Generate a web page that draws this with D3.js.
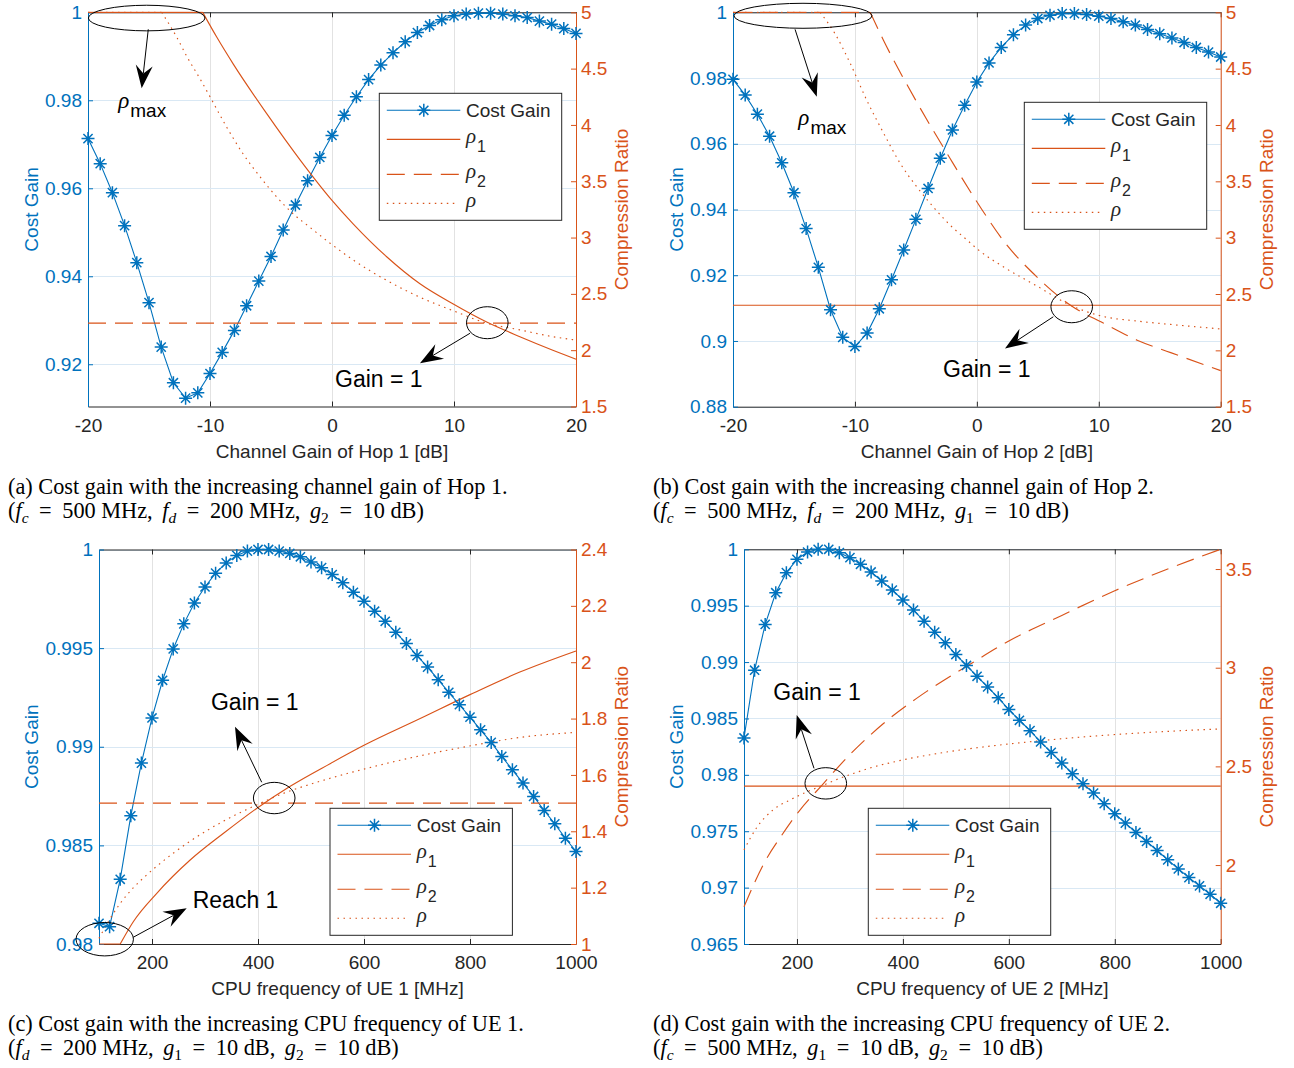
<!DOCTYPE html>
<html><head><meta charset="utf-8">
<script src="https://cdn.jsdelivr.net/npm/d3@7/dist/d3.min.js"></script>
<style>html,body{margin:0;padding:0;background:#fff;}svg{display:block;}</style>
</head><body>
<svg id="chart" width="1294" height="1068"></svg>
<script>
// ================= DATA =================
const hopGainDb = [-20,-19,-18,-17,-16,-15,-14,-13,-12,-11,-10,-9,-8,-7,-6,-5,-4,-3,-2,-1,0,1,2,3,4,5,6,7,8,9,10,11,12,13,14,15,16,17,18,19,20];
const costGainHop1 = [0.9713,0.9656,0.9590,0.9515,0.9431,0.9340,0.9239,0.9158,0.9123,0.9135,0.9179,0.9227,0.9277,0.9333,0.9389,0.9445,0.9505,0.9562,0.9617,0.9670,0.9720,0.9766,0.9808,0.9847,0.9880,0.9908,0.9933,0.9954,0.9970,0.9983,0.9992,0.9996,0.9998,0.9998,0.9996,0.9992,0.9988,0.9980,0.9973,0.9963,0.9952];
const costGainHop2 = [0.9796,0.9748,0.9690,0.9623,0.9542,0.9451,0.9342,0.9224,0.9095,0.9011,0.8983,0.9024,0.9098,0.9186,0.9277,0.9370,0.9464,0.9556,0.9642,0.9717,0.9788,0.9846,0.9893,0.9932,0.9961,0.9981,0.9991,0.9996,0.9996,0.9993,0.9988,0.9981,0.9971,0.9961,0.9948,0.9935,0.9922,0.9908,0.9893,0.9879,0.9864];
const cpuFreqMHz = [100,120,140,160,180,200,220,240,260,280,300,320,340,360,380,400,420,440,460,480,500,520,540,560,580,600,620,640,660,680,700,720,740,760,780,800,820,840,860,880,900,920,940,960,980,1000];
const costGainUE1 = [0.98105,0.98088,0.98328,0.98650,0.98917,0.99146,0.99337,0.99496,0.99623,0.99729,0.99810,0.99880,0.99932,0.99970,0.99992,1.00000,1.00000,0.99992,0.99980,0.99963,0.99937,0.99908,0.99873,0.99831,0.99783,0.99738,0.99687,0.99636,0.99580,0.99523,0.99462,0.99404,0.99340,0.99276,0.99213,0.99150,0.99086,0.99022,0.98951,0.98883,0.98816,0.98748,0.98677,0.98609,0.98536,0.98469];
const costGainUE2 = [0.98327,0.98928,0.99334,0.99615,0.99793,0.99911,0.99976,1.00000,1.00000,0.99970,0.99926,0.99867,0.99799,0.99719,0.99639,0.99550,0.99461,0.99363,0.99265,0.99171,0.99067,0.98970,0.98874,0.98780,0.98683,0.98579,0.98484,0.98392,0.98292,0.98199,0.98105,0.98010,0.97921,0.97838,0.97744,0.97655,0.97572,0.97489,0.97409,0.97329,0.97246,0.97166,0.97089,0.97015,0.96941,0.96861];

// compression ratios (x positions, values)
const rho1Hop1X = [-20,-10.6,-9.45,-8.09,-5.35,-2.62,0,1.75,4.48,7.21,9.94,12.68,15.4,18.1,20];
const rho1Hop1  = [5,5,4.78,4.54,4.10,3.69,3.33,3.12,2.83,2.59,2.41,2.25,2.12,2.00,1.92];
const rho2Hop1X = [-20,20];
const rho2Hop1  = [2.24,2.24];
const rhoHop1X  = [-20,-13.96,-12.73,-11.91,-10.82,-10,-8.63,-7.27,-5.9,-4.53,-3.17,-1.8,-0.16,1.75,4.48,7.21,9.94,12.68,15.4,18.1,20];
const rhoHop1   = [5,5,4.78,4.61,4.41,4.25,3.98,3.74,3.54,3.36,3.21,3.09,2.95,2.80,2.62,2.47,2.35,2.24,2.18,2.12,2.09];

const rho1Hop2X = [-20,20];
const rho1Hop2  = [2.40,2.40];
const rho2Hop2X = [-20,-8.75,-7.65,-4.91,-2.18,0.29,2.2,4.94,7.68,10.4,13.15,15.9,20];
const rho2Hop2  = [5,5,4.75,4.20,3.70,3.27,2.97,2.65,2.40,2.24,2.09,1.98,1.82];
const rhoHop2X  = [-20,-12.86,-11.63,-10.4,-9.03,-7.66,-6.29,-4.92,-3.55,-2.18,-0.81,0.14,2.2,4.94,7.68,10.4,13.15,15.9,20];
const rhoHop2   = [5,5,4.81,4.55,4.22,3.93,3.66,3.45,3.27,3.11,2.98,2.89,2.74,2.57,2.40,2.30,2.26,2.23,2.19];

const rho1UE1X = [100,140,165,209,272,335,398,460,536,600,706,800,894,1000];
const rho1UE1  = [1,1,1.08,1.18,1.298,1.393,1.482,1.559,1.640,1.705,1.80,1.885,1.965,2.04];
const rho2UE1X = [100,1000];
const rho2UE1  = [1.5,1.5];
const rhoUE1X  = [100,121,140,165,190,209,240,272,303,335,366,398,429,460,492,536,580,643,706,769,832,894,1000];
const rhoUE1   = [1.02,1.09,1.144,1.200,1.245,1.276,1.322,1.365,1.402,1.436,1.466,1.494,1.520,1.543,1.563,1.588,1.611,1.641,1.668,1.692,1.714,1.733,1.751];

const rho1UE2X = [100,1000];
const rho1UE2  = [2.40,2.40];
const rho2UE2X = [100,140,171,203,247,300,369,445,533,600,700,800,900,1000];
const rho2UE2  = [1.789,2.02,2.15,2.27,2.404,2.56,2.73,2.88,3.028,3.135,3.265,3.39,3.50,3.6];
const rhoUE2X  = [100,124,155,187,218,250,281,313,344,376,407,445,483,533,652,778,904,1000];
const rhoUE2   = [2.077,2.19,2.28,2.33,2.37,2.405,2.44,2.47,2.497,2.518,2.537,2.556,2.573,2.592,2.628,2.657,2.678,2.69];

// ticks
const hopTicks = [-20,-10,0,10,20];
const hopTickLabels = ['-20','-10','0','10','20'];
const cpuTicks = [200,400,600,800,1000];
const cpuTickLabels = ['200','400','600','800','1000'];
const costTicksA = [0.92,0.94,0.96,0.98,1];
const costLabelsA = ['0.92','0.94','0.96','0.98','1'];
const costTicksB = [0.88,0.9,0.92,0.94,0.96,0.98,1];
const costLabelsB = ['0.88','0.9','0.92','0.94','0.96','0.98','1'];
const costTicksC = [0.98,0.985,0.99,0.995,1];
const costLabelsC = ['0.98','0.985','0.99','0.995','1'];
const costTicksD = [0.965,0.97,0.975,0.98,0.985,0.99,0.995,1];
const costLabelsD = ['0.965','0.97','0.975','0.98','0.985','0.99','0.995','1'];
const ratioTicksAB = [1.5,2,2.5,3,3.5,4,4.5,5];
const ratioLabelsAB = ['1.5','2','2.5','3','3.5','4','4.5','5'];
const ratioTicksC = [1,1.2,1.4,1.6,1.8,2,2.2,2.4];
const ratioLabelsC = ['1','1.2','1.4','1.6','1.8','2','2.2','2.4'];
const ratioTicksD = [2,2.5,3,3.5];
const ratioLabelsD = ['2','2.5','3','3.5'];

const legendLabels = ['Cost Gain','1','2',''];
const captionsLine1 = [
  '(a) Cost gain with the increasing channel gain of Hop 1.',
  '(b) Cost gain with the increasing channel gain of Hop 2.',
  '(c) Cost gain with the increasing CPU frequency of UE 1.',
  '(d) Cost gain with the increasing CPU frequency of UE 2.'
];
// [text, style] n=normal i=italic s=subscript si=italic subscript
const captionsLine2 = [
  [['(','n'],['f','i'],['c','si'],[' = 500 MHz, ','n'],['f','i'],['d','si'],[' = 200 MHz, ','n'],['g','i'],['2','s'],[' = 10 dB)','n']],
  [['(','n'],['f','i'],['c','si'],[' = 500 MHz, ','n'],['f','i'],['d','si'],[' = 200 MHz, ','n'],['g','i'],['1','s'],[' = 10 dB)','n']],
  [['(','n'],['f','i'],['d','si'],[' = 200 MHz, ','n'],['g','i'],['1','s'],[' = 10 dB, ','n'],['g','i'],['2','s'],[' = 10 dB)','n']],
  [['(','n'],['f','i'],['c','si'],[' = 500 MHz, ','n'],['g','i'],['1','s'],[' = 10 dB, ','n'],['g','i'],['2','s'],[' = 10 dB)','n']]
];

// ================= DRAWING =================
const BLUE='#0072BD', ORANGE='#D95319', AXIS='#262626';
const SANS='"Liberation Sans", Arial, Helvetica, sans-serif';
const SERIF='"Liberation Serif", "Times New Roman", serif';
const svg=d3.select('#chart');
svg.append('rect').attr('width',1294).attr('height',1068).attr('fill','#fff');

const panels=[
 {L:88,R:576,T:12.3,B:406.5,xDom:[-20,20],yLDom:[0.9104,1],yRDom:[1.5,5],
  xT:hopTicks,xTL:hopTickLabels,yLT:costTicksA,yLTL:costLabelsA,yRT:ratioTicksAB,yRTL:ratioLabelsAB,
  xs:hopGainDb,cost:costGainHop1,r1:[rho1Hop1X,rho1Hop1],r2:[rho2Hop1X,rho2Hop1],r:[rhoHop1X,rhoHop1],
  legend:[379.3,93.3],xLabel:'Channel Gain of Hop 1 [dB]',yLOff:50,
  ellipses:[[-15.19,4.949,58.3,12.8],[12.73,2.244,20.8,16]],
  arrows:[[-15.06,4.849,-15.6,4.325],[11.31,2.15,7.21,1.884]],
  rhomax:[-17.52,4.146],texts:[['Gain = 1',0.25,1.673]]},
 {L:733,R:1220.7,T:12.3,B:406.7,xDom:[-20,20],yLDom:[0.88,1],yRDom:[1.5,5],
  xT:hopTicks,xTL:hopTickLabels,yLT:costTicksB,yLTL:costLabelsB,yRT:ratioTicksAB,yRTL:ratioLabelsAB,
  xs:hopGainDb,cost:costGainHop2,r1:[rho1Hop2X,rho1Hop2],r2:[rho2Hop2X,rho2Hop2],r:[rhoHop2X,rhoHop2],
  legend:[1024.3,102.3],xLabel:'Channel Gain of Hop 2 [dB]',yLOff:49.7,
  ellipses:[[-14.26,4.969,69,12.5],[7.78,2.387,20.8,16]],
  arrows:[[-14.91,4.849,-13.13,4.251],[6.27,2.298,2.31,2.017]],
  rhomax:[-14.64,4.0],texts:[['Gain = 1',-2.77,1.76]]},
 {L:99,R:576,T:549.5,B:944,xDom:[100,1000],yLDom:[0.98,1],yRDom:[1,2.4],
  xT:cpuTicks,xTL:cpuTickLabels,yLT:costTicksC,yLTL:costLabelsC,yRT:ratioTicksC,yRTL:ratioLabelsC,
  xs:cpuFreqMHz,cost:costGainUE1,r1:[rho1UE1X,rho1UE1],r2:[rho2UE1X,rho2UE1],r:[rhoUE1X,rhoUE1],
  legend:[330,808.3],xLabel:'CPU frequency of UE 1 [MHz]',yLOff:60.7,
  ellipses:[[430.6,1.518,20.8,15.7],[110.8,1.017,28.7,16.7]],
  arrows:[[407,1.574,356.6,1.771],[164.7,1.024,265.5,1.127]],
  rhomax:null,texts:[['Gain = 1',311.3,1.830],['Reach 1',276.8,1.129]]},
 {L:744,R:1220.7,T:549.3,B:944,xDom:[100,1000],yLDom:[0.965,1],yRDom:[1.6,3.6],
  xT:cpuTicks,xTL:cpuTickLabels,yLT:costTicksD,yLTL:costLabelsD,yRT:ratioTicksD,yRTL:ratioLabelsD,
  xs:cpuFreqMHz,cost:costGainUE2,r1:[rho1UE2X,rho1UE2],r2:[rho2UE2X,rho2UE2],r:[rhoUE2X,rhoUE2],
  legend:[868.3,808.3],xLabel:'CPU frequency of UE 2 [MHz]',yLOff:60.7,
  ellipses:[[254.4,2.414,20.8,15.7]],
  arrows:[[232.2,2.49,199.5,2.76]],
  rhomax:null,texts:[['Gain = 1',155.3,2.837]]}
];

function asterisk(r){const d=r*Math.SQRT1_2;return `M${-r},0L${r},0M0,${-r}L0,${r}M${-d},${-d}L${d},${d}M${-d},${d}L${d},${-d}`;}

function drawArrow(g,x1,y1,x2,y2){
  const dx=x2-x1,dy=y2-y1,len=Math.hypot(dx,dy),ux=dx/len,uy=dy/len,nx=-uy,ny=ux;
  const L=23,Wd=8.5,notch=15;
  const bx=x2-ux*L,by=y2-uy*L;
  const pn=[x2-ux*notch,y2-uy*notch];
  g.append('line').attr('x1',x1).attr('y1',y1).attr('x2',pn[0]).attr('y2',pn[1]).attr('stroke','#000').attr('stroke-width',1);
  g.append('path').attr('d',`M${x2},${y2}L${bx+nx*Wd},${by+ny*Wd}L${pn[0]},${pn[1]}L${bx-nx*Wd},${by-ny*Wd}Z`).attr('fill','#000');
}

function rhoLabel(g,x,y,sub,size,subSize,subDy,fill){
  const t=g.append('text').attr('x',x).attr('y',y).attr('fill',fill||AXIS);
  t.append('tspan').text('ρ').attr('font-family',SERIF).attr('font-style','italic').attr('font-size',size);
  if(sub) t.append('tspan').text(sub).attr('font-family',SANS).attr('font-size',subSize).attr('dy',subDy).attr('dx',1);
  return t;
}

function splitFlat(xsArr,vs){
  let k=0; while(k+1<vs.length && vs[k+1]===vs[0]) k++;
  const pts=xsArr.map((x,i)=>[x,vs[i]]);
  if(k===0) return {flat:null,curve:pts};
  return {flat:pts.slice(0,k+1),curve:pts.slice(k)};
}

panels.forEach((p,pi)=>{
  const g=svg.append('g');
  const x=d3.scaleLinear().domain(p.xDom).range([p.L,p.R]);
  const yL=d3.scaleLinear().domain(p.yLDom).range([p.B,p.T]);
  const yR=d3.scaleLinear().domain(p.yRDom).range([p.B,p.T]);

  // grid
  g.append('g').selectAll('line').data(p.xT).join('line')
    .attr('x1',d=>Math.round(x(d))+0.5).attr('x2',d=>Math.round(x(d))+0.5).attr('y1',p.T).attr('y2',p.B)
    .attr('stroke','#e2e2e2').attr('stroke-width',1);
  g.append('g').selectAll('line').data(p.yLT).join('line')
    .attr('y1',d=>Math.round(yL(d))+0.5).attr('y2',d=>Math.round(yL(d))+0.5).attr('x1',p.L).attr('x2',p.R)
    .attr('stroke','#d9e8f4').attr('stroke-width',1);

  // axes
  const styleAxis=(sel,color)=>{
    sel.attr('font-family',SANS).attr('font-size',19);
    sel.selectAll('.domain').attr('stroke',color).attr('stroke-width',1);
    sel.selectAll('.tick line').attr('stroke',color).attr('stroke-width',1);
    sel.selectAll('.tick text').attr('fill',color);
  };
  const ax=(axis,tr,color)=>{const s=g.append('g').attr('transform',tr).call(axis);styleAxis(s,color);return s;};
  ax(d3.axisTop(x).tickValues(p.xT).tickSizeInner(-5).tickSizeOuter(0).tickFormat(''),`translate(0,${p.T})`,AXIS);
  ax(d3.axisBottom(x).tickValues(p.xT).tickSizeInner(-5).tickSizeOuter(0).tickPadding(12).tickFormat((d,i)=>p.xTL[i]),`translate(0,${p.B})`,AXIS);
  ax(d3.axisLeft(yL).tickValues(p.yLT).tickSizeInner(-5).tickSizeOuter(0).tickPadding(6).tickFormat((d,i)=>p.yLTL[i]),`translate(${p.L},0)`,BLUE);
  ax(d3.axisRight(yR).tickValues(p.yRT).tickSizeInner(-5).tickSizeOuter(0).tickPadding(5).tickFormat((d,i)=>p.yRTL[i]),`translate(${p.R},0)`,ORANGE);

  // axis labels
  g.append('text').attr('x',(p.L+p.R)/2).attr('y',p.B+51).attr('text-anchor','middle')
    .attr('font-family',SANS).attr('font-size',19).attr('fill',AXIS).text(p.xLabel);
  g.append('text').attr('transform',`translate(${p.L-p.yLOff},${(p.T+p.B)/2}) rotate(-90)`).attr('text-anchor','middle')
    .attr('font-family',SANS).attr('font-size',19).attr('fill',BLUE).text('Cost Gain');
  g.append('text').attr('transform',`translate(${p.R+52},${(p.T+p.B)/2}) rotate(-90)`).attr('text-anchor','middle')
    .attr('font-family',SANS).attr('font-size',19).attr('fill',ORANGE).text('Compression Ratio');

  // clip
  const cid='clip'+pi;
  svg.append('clipPath').attr('id',cid).append('rect').attr('x',p.L-1).attr('y',p.T-1).attr('width',p.R-p.L+2).attr('height',p.B-p.T+2);
  const data=g.append('g').attr('clip-path',`url(#${cid})`);

  // cost gain
  const costPts=p.xs.map((v,i)=>[v,p.cost[i]]);
  data.append('path').attr('d',d3.line().x(d=>x(d[0])).y(d=>yL(d[1]))(costPts))
    .attr('fill','none').attr('stroke',BLUE).attr('stroke-width',1.1);
  g.append('g').selectAll('path').data(costPts).join('path')
    .attr('d',asterisk(6.5)).attr('transform',d=>`translate(${x(d[0])},${yL(d[1])})`)
    .attr('fill','none').attr('stroke',BLUE).attr('stroke-width',1.5);

  // ratios
  const lineLin=d3.line().x(d=>x(d[0])).y(d=>yR(d[1]));
  const lineSm=d3.line().x(d=>x(d[0])).y(d=>yR(d[1])).curve(d3.curveMonotoneX);
  const drawRatio=(arr,dash)=>{
    const s=splitFlat(arr[0],arr[1]);
    let d='';
    if(s.flat) d+=lineLin(s.flat);
    d+=(s.curve.length>2?lineSm(s.curve):lineLin(s.curve));
    data.append('path').attr('d',d).attr('fill','none').attr('stroke',ORANGE).attr('stroke-width',1.15)
      .attr('stroke-dasharray',dash);
  };
  drawRatio(p.r1,null);
  drawRatio(p.r2,'18,9');
  drawRatio(p.r,'1.5,4.5');

  // legend
  const lg=g.append('g').attr('transform',`translate(${p.legend[0]},${p.legend[1]})`);
  lg.append('rect').attr('width',182.4).attr('height',127).attr('fill','#fff').attr('stroke',AXIS).attr('stroke-width',1);
  const rows=[17,46,81,110];
  lg.append('line').attr('x1',7.5).attr('x2',81).attr('y1',rows[0]).attr('y2',rows[0]).attr('stroke',BLUE).attr('stroke-width',1.1);
  lg.append('path').attr('d',asterisk(6.5)).attr('transform',`translate(44.5,${rows[0]})`).attr('fill','none').attr('stroke',BLUE).attr('stroke-width',1.5);
  lg.append('text').attr('x',86.7).attr('y',rows[0]+7).attr('font-family',SANS).attr('font-size',19).attr('fill',AXIS).text(legendLabels[0]);
  const dashes=[null,'18,9','1.5,4.5'];
  [1,2,3].forEach(k=>{
    lg.append('line').attr('x1',7.5).attr('x2',k===3?77:81).attr('y1',rows[k]).attr('y2',rows[k])
      .attr('stroke',ORANGE).attr('stroke-width',1.15).attr('stroke-dasharray',dashes[k-1]);
    rhoLabel(lg,86.7,rows[k]+4,legendLabels[k],21,16,9);
  });

  // annotations
  const an=g.append('g');
  p.ellipses.forEach(e=>{
    an.append('ellipse').attr('cx',x(e[0])).attr('cy',yR(e[1])).attr('rx',e[2]).attr('ry',e[3])
      .attr('fill','none').attr('stroke','#000').attr('stroke-width',1);
  });
  p.arrows.forEach(a=>drawArrow(an,x(a[0]),yR(a[1]),x(a[2]),yR(a[3])));
  if(p.rhomax){ rhoLabel(an,x(p.rhomax[0]),yR(p.rhomax[1]),'max',23,19,9,'#000'); }
  p.texts.forEach(t=>{
    an.append('text').attr('x',x(t[1])).attr('y',yR(t[2])).attr('font-family',SANS).attr('font-size',23)
      .attr('fill','#000').text(t[0]);
  });

  // captions
  const cx=pi%2===0?8:653;
  const cy=pi<2?494:1031;
  svg.append('text').attr('x',cx).attr('y',cy).attr('font-family',SERIF).attr('font-size',22.3).attr('fill','#000').text(captionsLine1[pi]);
  const t2=svg.append('text').attr('x',cx).attr('y',cy+24).attr('font-family',SERIF).attr('font-size',22.3).attr('fill','#000');
  let shift=0, pendingDx=0;
  captionsLine2[pi].forEach(tok=>{
    const isSub=tok[1].startsWith('s');
    const target=isSub?5:0;
    const pieces=tok[0].split(/(=)/).filter(s=>s.length);
    pieces.forEach((pc,j)=>{
      const ts=t2.append('tspan').text(pc);
      if(j===0){ ts.attr('dy',target-shift); shift=target; }
      let dx=pendingDx; pendingDx=0;
      if(pc==='='){ dx+=5; pendingDx=5; }
      if(dx) ts.attr('dx',dx);
      if(/, $/.test(pc)) pendingDx+=4;
      if(isSub) ts.attr('font-size',15.5);
      if(tok[1]==='i'||tok[1]==='si') ts.attr('font-style','italic');
    });
  });
});
</script>
</body></html>
